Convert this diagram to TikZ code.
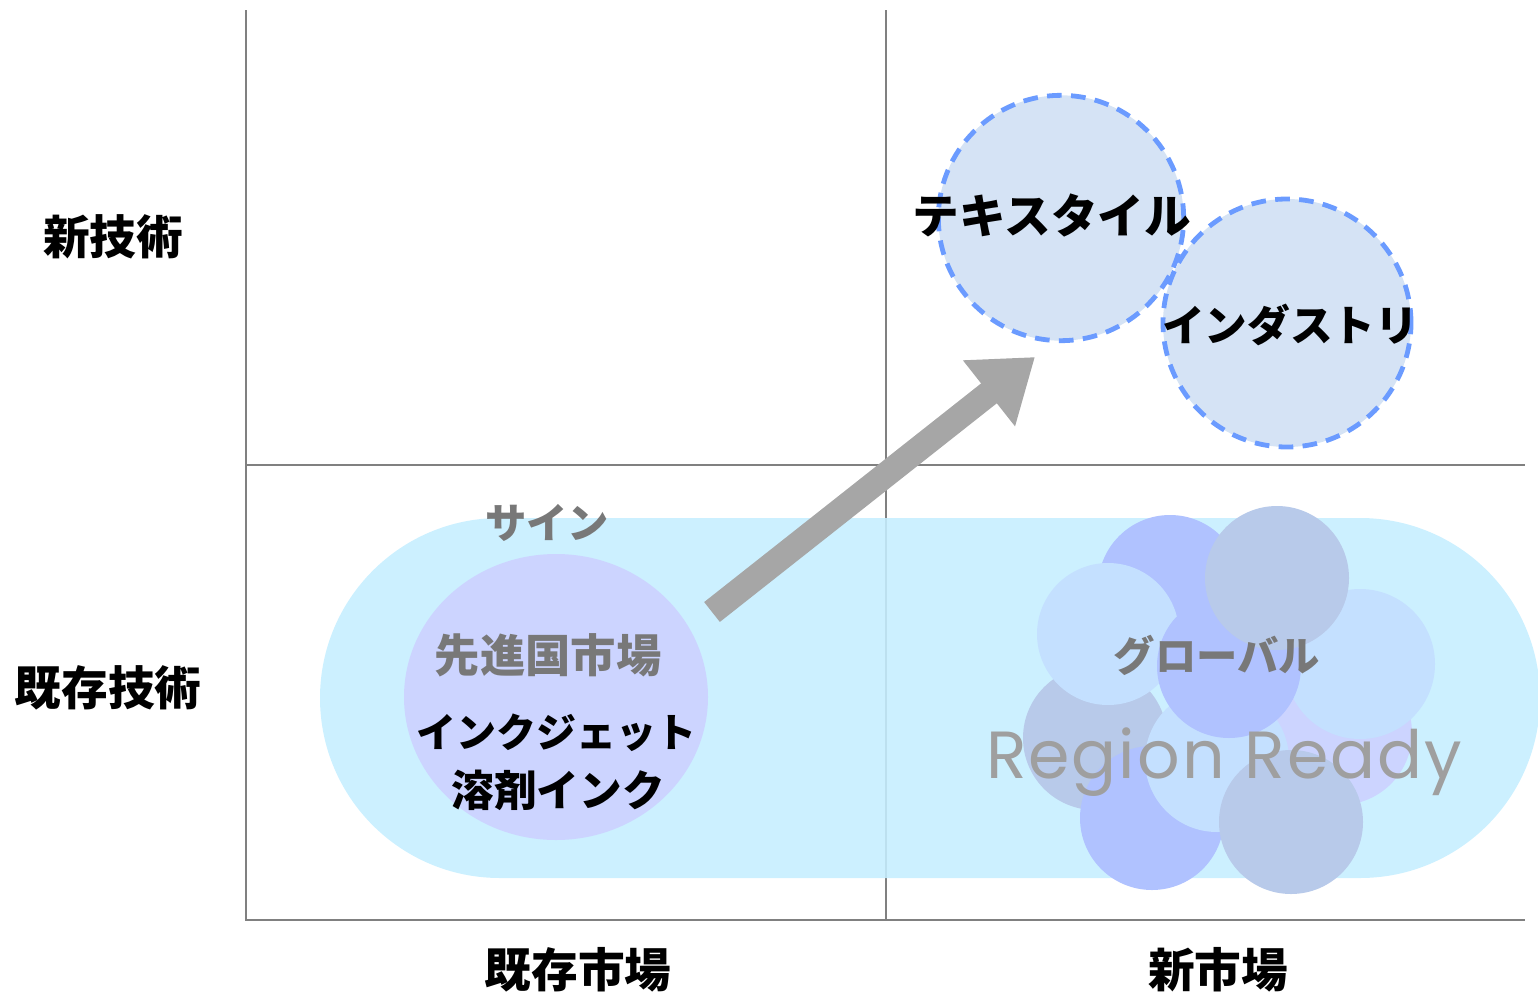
\documentclass[tikz,border=0pt]{standalone}
\usepackage{fontspec}
\setmainfont{Noto Sans CJK JP}
\newfontfamily\latinfont{Poppins}[LetterSpace=3]
\usetikzlibrary{arrows.meta}
\definecolor{gridgray}{RGB}{128,128,128}
\definecolor{bandcyan}{RGB}{197,238,255}
\definecolor{lavender}{RGB}{204,212,255}
\definecolor{blobblue}{RGB}{176,194,255}
\definecolor{blobgray}{RGB}{184,202,234}
\definecolor{bloblight}{RGB}{196,224,255}
\definecolor{dashblue}{RGB}{107,155,255}
\definecolor{dashfill}{RGB}{213,227,245}
\definecolor{arrowgray}{RGB}{166,166,166}
\definecolor{labelgray}{RGB}{120,120,120}
\tikzset{
  axislabel/.style={font=\bfseries\fontsize{35}{40}\selectfont},
  graylabel/.style={text=labelgray,font=\bfseries\fontsize{#1}{#1}\selectfont},
  inklabel/.style={font=\bfseries\fontsize{#1}{#1}\selectfont},
  dashblob/.style={circle,minimum size=#1,inner sep=0pt,fill=dashfill,
    draw=dashblue,line width=3.6pt,dash pattern=on 11pt off 7pt},
}
\begin{document}
\begin{tikzpicture}[x=0.75pt,y=-0.75pt]
  \useasboundingbox (0,0) rectangle (1538,996);
  % quadrant grid
  \draw[gridgray,line width=1.5pt] (246,10) -- (246,920) -- (1525,920);
  \draw[gridgray,line width=1.2pt] (886,10) -- (886,920);
  \draw[gridgray,line width=1.2pt] (246,465) -- (1525,465);
  % existing technology band
  \fill[bandcyan,fill opacity=0.88,rounded corners=135pt] (320,518) rectangle (1540,878);
  \fill[lavender] (556,697) ellipse[x radius=152,y radius=143];
  % global cluster
  \fill[blobblue]  (1170,587) circle[radius=72];
  \fill[blobgray]  (1095,738) circle[radius=72];
  \fill[blobblue]  (1152,818) circle[radius=72];
  \fill[lavender]  (1340,733) circle[radius=72];
  \fill[bloblight] (1108,634) circle[radius=71];
  \fill[bloblight] (1360,664) circle[radius=75];
  \fill[bloblight] (1217,760) circle[radius=72];
  \fill[blobblue]  (1229,666) circle[radius=72];
  \fill[blobgray]  (1277,578) circle[radius=72];
  \fill[blobgray]  (1291,822) circle[radius=72];
  % new markets
  \node[dashblob=184pt] (textile) at (1061,218) {};
  \node[dashblob=186pt] (industry) at (1287,323) {};
  \node[inklabel=35] (textiletxt) at (1052,215) {テキスタイル};
  \node[inklabel=32] (industrytxt) at (1290,325) {インダストリ};
  % labels
  \node[axislabel] (newtech) at (113,237) {新技術};
  \node[axislabel] (oldtech) at (108,688) {既存技術};
  \node[axislabel] (oldmarket) at (578,970) {既存市場};
  \node[axislabel] (newmarket) at (1218,970) {新市場};
  \node[graylabel=31] (sign) at (547,523) {サイン};
  \node[graylabel=34] (advanced) at (548,655) {先進国市場};
  \node[inklabel=30] (inkjet) at (556,733) {インクジェット};
  \node[inklabel=32] (solvent) at (558,790) {溶剤インク};
  \node[graylabel=31] (global) at (1217,655) {グローバル};
  \node[anchor=base,text=gray!75,font=\latinfont\fontsize{50}{50}\selectfont] (region) at (1224,778) {Region Ready};
  % shift arrow
  \coordinate (shiftfrom) at (712,612);
  \coordinate (shiftto) at (1035,357);
  \draw[arrowgray,line width=19pt,-{Triangle[length=44pt,width=60pt]}] (shiftfrom) -- (shiftto);
\end{tikzpicture}
\end{document}
